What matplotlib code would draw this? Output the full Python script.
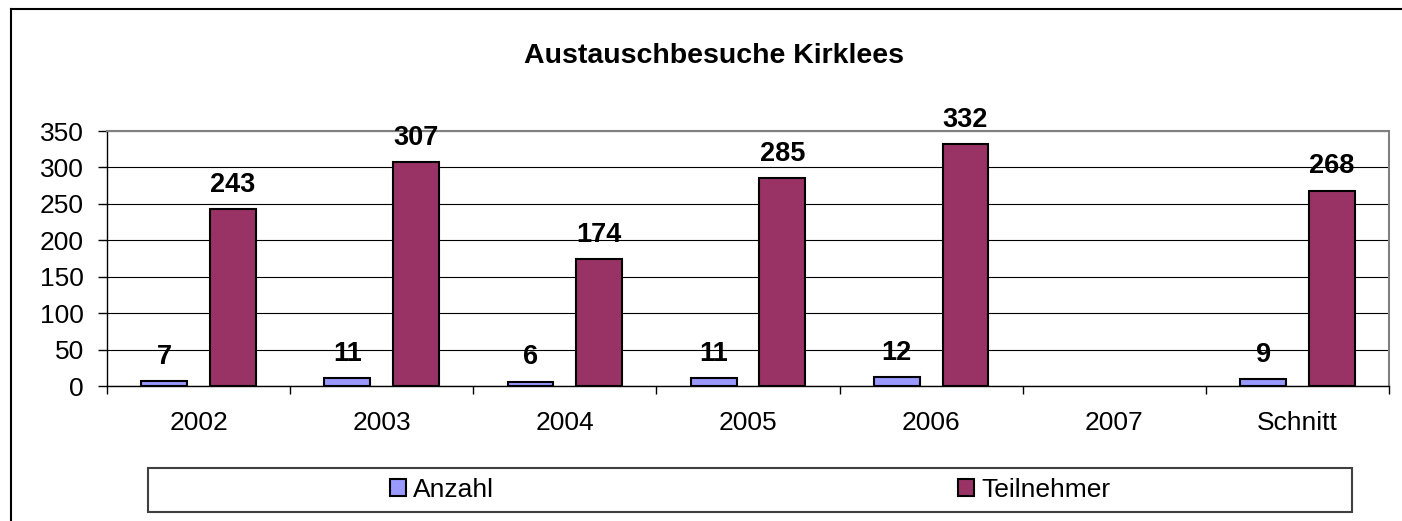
import numpy as np
import matplotlib
matplotlib.use("Agg")
import matplotlib.pyplot as plt
from matplotlib.patches import Rectangle
from matplotlib.lines import Line2D

# Daten
jahre = ["2002", "2003", "2004", "2005", "2006", "2007", "Schnitt"]
anzahl = [7, 11, 6, 11, 12, None, 9]
teilnehmer = [243, 307, 174, 285, 332, None, 268]

plt.rcParams['font.family'] = ['Liberation Sans', 'DejaVu Sans']

B, H = 1402, 521
fig = plt.figure(figsize=(B / 100, H / 100), dpi=100)
ax = fig.add_axes([107 / B, 1 - 386 / H, (1389 - 107) / B, (386 - 131) / H])

x = np.arange(len(jahre))
anz = np.array([np.nan if v is None else v for v in anzahl], dtype=float)
tn = np.array([np.nan if v is None else v for v in teilnehmer], dtype=float)

b1 = ax.bar(x - 0.1875, anz, 0.25, color='#9999FF', edgecolor='black',
            linewidth=1.5, label='Anzahl', zorder=3)
b2 = ax.bar(x + 0.1875, tn, 0.25, color='#993366', edgecolor='black',
            linewidth=1.5, label='Teilnehmer', zorder=3)

# Werte ueber den Balken
for balken, werte in ((b1, anzahl), (b2, teilnehmer)):
    for rect, v in zip(balken, werte):
        if v is None:
            continue
        ax.annotate(str(v), (rect.get_x() + rect.get_width() / 2, v),
                    xytext=(0, 12.5), textcoords='offset points',
                    ha='center', va='baseline', fontsize=19.5, fontweight='bold')

ax.set_xlim(-0.5, len(jahre) - 0.5)
ax.set_ylim(0, 350)
ax.set_yticks(range(0, 351, 50))
ax.yaxis.grid(True, color='black', linewidth=0.8)
ax.set_axisbelow(True)

ax.set_xticks(np.arange(-0.5, len(jahre), 1))
ax.set_xticklabels([])
ax.set_xticks(x, jahre, minor=True)
ax.tick_params(axis='x', which='major', length=6, width=1, direction='out')
ax.tick_params(axis='x', which='minor', length=0, pad=18, labelsize=19)
ax.tick_params(axis='y', length=6.5, width=1, pad=10, labelsize=19)

for s in ('top', 'right'):
    ax.spines[s].set_color('#808080')
    ax.spines[s].set_linewidth(1.5)
for s in ('left', 'bottom'):
    ax.spines[s].set_color('black')
    ax.spines[s].set_linewidth(1)

fig.text(714 / B, 1 - 63.5 / H, "Austauschbesuche Kirklees", ha='center',
         va='baseline', fontsize=20.5, fontweight='bold')

# Legende mit Rahmen
fig.patches.append(Rectangle((148 / B, 1 - 512 / H), 1204 / B, 44 / H,
                             transform=fig.transFigure, fill=False,
                             edgecolor='#404040', linewidth=1.5))
fig.legend(handles=[b1, b2], loc='center', bbox_to_anchor=(750 / B, 1 - 490 / H),
           ncol=2, frameon=False, fontsize=19, handlelength=0.6,
           handleheight=0.6, handletextpad=0.27, columnspacing=17.6,
           borderpad=0, borderaxespad=0)

# Diagrammrahmen
fig.add_artist(Line2D([11 / B, 1], [1 - 9 / H, 1 - 9 / H],
                      transform=fig.transFigure, color='black', linewidth=1.5))
fig.add_artist(Line2D([11 / B, 11 / B], [0, 1 - 9 / H],
                      transform=fig.transFigure, color='black', linewidth=1.5))

fig.savefig('out.png', dpi=100)
